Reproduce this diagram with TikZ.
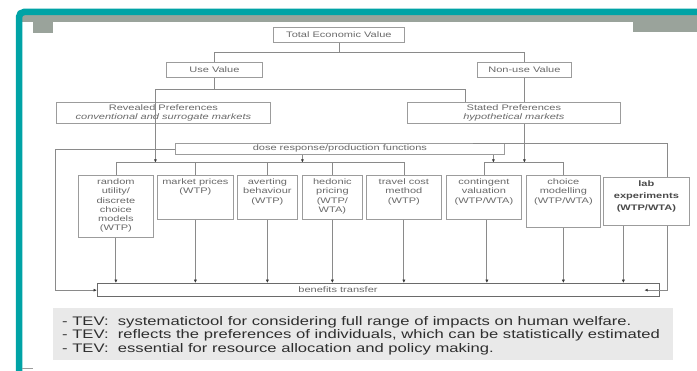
\documentclass[tikz,border=0pt]{standalone}
\usepackage{fontspec}
\setmainfont{Liberation Sans}
\newfontfamily\dgf[FakeStretch=1.38]{Liberation Sans}
\newfontfamily\btf[FakeStretch=1.34]{Liberation Sans}
\usetikzlibrary{arrows.meta}
\definecolor{teal1}{HTML}{00A3A6}
\definecolor{band}{HTML}{9AA39B}
\definecolor{boxc}{HTML}{9C9C9C}
\definecolor{linec}{HTML}{8A8A8A}
\definecolor{tipc}{HTML}{3A3A3A}
\definecolor{txtc}{HTML}{6A6A6A}
\definecolor{labtxt}{HTML}{4A4A4A}
\definecolor{btc}{HTML}{6A6A6A}
\definecolor{notebg}{HTML}{E9E9E9}
\definecolor{notetxt}{HTML}{2E2E2E}
\newcommand\dgtxt{\dgf\fontsize{8}{9.3}\selectfont}
\newcommand\dgtwo{\dgf\fontsize{8}{8.6}\selectfont}
\begin{document}
\begin{tikzpicture}[x=1pt,y=-1pt,
  bx/.style={draw=boxc, line width=0.8pt, inner sep=0pt, anchor=north west,
             text=txtc, align=center, font=\dgtxt},
  dt/.style={text=txtc, align=center, inner sep=0pt, anchor=north, font=\dgtxt},
  ln/.style={draw=linec, line width=0.7pt},
  arr/.style={ln, -{Latex[length=3.4pt,width=3pt,color=tipc]}},
  drop/.style={draw=linec, line width=0.9pt, -{Latex[length=3.4pt,width=3.2pt,color=tipc]}},
  nt/.style={anchor=base west, inner sep=0pt, text=notetxt,
             font=\btf\fontsize{12.4}{13.6}\selectfont}]
\useasboundingbox (0,0) rectangle (697,371);
\fill[white] (0,0) rectangle (697,371);
% frame decoration
\fill[band] (22,15) rectangle (697,22);
\fill[band] (33,15) rectangle (53,33);
\fill[band] (633,15) rectangle (697,32);
\draw[teal1, line width=6.5pt, rounded corners=5pt] (19,375) -- (19,12) -- (700,12);
\draw[boxc, line width=0.8pt] (22,368) -- (33,368);

% top hierarchy
\node[bx, minimum width=131pt, minimum height=15pt] (tev) at (273,27) {Total Economic Value};
\node[bx, minimum width=96pt, minimum height=15pt] (use) at (166,62) {Use Value};
\node[bx, minimum width=94pt, minimum height=15pt] (non) at (477,62) {Non-use Value};
\node[bx, minimum width=214pt, minimum height=21pt, font=\dgtwo] (rp) at (56,102)
  {Revealed Preferences\\\textit{conventional and surrogate markets}};
\node[bx, minimum width=213pt, minimum height=21pt, font=\dgtwo] (sp) at (407,102)
  {Stated Preferences\\\textit{hypothetical markets}};
\node[bx, minimum width=329pt, minimum height=11pt] (dose) at (175,143)
  {dose response/production functions};

% method boxes
\node[bx, minimum width=75pt, minimum height=62pt] (ru) at (78,175) {};
\node[bx, minimum width=76pt, minimum height=44pt] (mp) at (157,175) {};
\node[bx, minimum width=60pt, minimum height=44pt] (ab) at (237,175) {};
\node[bx, minimum width=60pt, minimum height=44pt] (hp) at (302,175) {};
\node[bx, minimum width=75pt, minimum height=44pt] (tc) at (366,175) {};
\node[bx, minimum width=75pt, minimum height=44pt] (cv) at (446,175) {};
\node[bx, minimum width=74pt, minimum height=52pt] (cm) at (526,175) {};
\node[bx, minimum width=86pt, minimum height=48pt] (lab) at (603,177) {};

\node[dt] (rut) at ([yshift=-3.5pt]ru.north) {random\\utility/\\discrete\\choice\\models\\(WTP)};
\node[dt] (mpt) at ([yshift=-3.5pt]mp.north) {market prices\\(WTP)};
\node[dt] (abt) at ([yshift=-3.5pt]ab.north) {averting\\behaviour\\(WTP)};
\node[dt] (hpt) at ([yshift=-3.5pt]hp.north) {hedonic\\pricing\\(WTP/\\WTA)};
\node[dt] (tct) at ([yshift=-3.5pt]tc.north) {travel cost\\method\\(WTP)};
\node[dt] (cvt) at ([yshift=-3.5pt]cv.north) {contingent\\valuation\\(WTP/WTA)};
\node[dt] (cmt) at ([yshift=-3.5pt]cm.north) {choice\\modelling\\(WTP/WTA)};
\node[dt, text=labtxt, font=\dgf\bfseries\fontsize{8}{12}\selectfont] (labt)
  at ([yshift=-4pt]lab.north) {lab\\experiments\\(WTP/WTA)};

% benefits transfer
\node[bx, draw=btc, line width=1.3pt, minimum width=562pt, minimum height=13pt] (bt) at (97,283) {};
\node[text=txtc, font=\dgtxt, inner sep=0pt] (btt) at (338,289.5) {benefits transfer};

% connectors: top
\draw[ln] (tev.south) -- ++(0,10) -| (use.north);
\draw[ln] (tev.south) -- ++(0,10) -| (non.north);
\draw[ln] (use.south) -- ++(0,12) coordinate (uj) -| ([xshift=-49pt]sp.north);
\draw[ln] (non.south) -- (non.south |- sp.north);
\draw[arr] (uj) -| ([xshift=-8pt]rp.south) -- ++(0,39);
\draw[arr] (non.south |- sp.south) -- ++(0,39);
\draw[arr] ([xshift=-37.5pt]dose.south) -- ++(0,8);
\draw[arr] ([xshift=153.5pt]dose.south) -- ++(0,8);

% group lines to boxes
\draw[ln] (ru.north) -- ++(0,-13) -| (tc.north);
\foreach \n in {mp,ab,hp} \draw[ln] (\n.north) -- ++(0,-13);
\draw[ln] (cv.north) -- ++(0,-13) -| (cm.north);

% loops
\draw[arr] (dose.west) -- ++(-120,0) |- (bt.west);
\draw[ln] ([xshift=-32pt]dose.north east) -| ([xshift=21pt]lab.north);
\draw[arr] ([xshift=21pt]lab.south) |- ([xshift=-16pt]bt.east);

% drops to benefits transfer
\foreach \n in {ru,mp,ab,hp,tc,cm} \draw[drop] (\n.south) -- (\n.south |- bt.north);
\draw[drop] ([xshift=3pt]cv.south) coordinate (cvb) -- (cvb |- bt.north);
\draw[drop] ([xshift=-23pt]lab.south) coordinate (labb) -- (labb |- bt.north);

% notes
\fill[notebg] (53,308) rectangle (673,360);
\node[nt] (n1) at (62,325.5) {- TEV:\ \ systematictool for considering full range of impacts on human welfare.};
\node[nt] (n2) at (62,339) {- TEV:\ \ reflects the preferences of individuals, which can be statistically estimated};
\node[nt] (n3) at (62,352.5) {- TEV:\ \ essential for resource allocation and policy making.};
\end{tikzpicture}
\end{document}
